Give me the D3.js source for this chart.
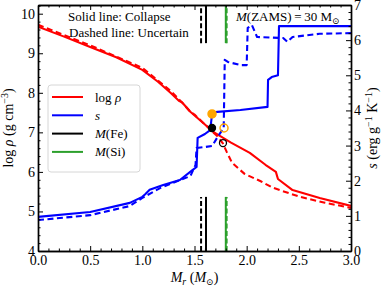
<!DOCTYPE html>
<html>
<head>
<meta charset="utf-8">
<script src="https://cdn.jsdelivr.net/npm/d3@7"></script>
<style>
    body { margin: 0; background: #fff; }
    text { font-family: 'Liberation Serif', 'DejaVu Serif', serif; fill: #000; }
    .axis path, .axis line { stroke: #000; }
    .axis path { stroke-width: 1.4; }
    .axis text { font-size: 13px; }
</style>
</head>
<body>
<div id="graph"></div>
<script>
// log rho profiles (left axis), [M_r, log rho]
var rhoCollapse  = [ [0, 9.67], [0.25, 9.42], [0.5, 9.16], [0.75, 8.9], [1.0, 8.58], [1.15, 8.28],
                     [1.27, 8.0], [1.35, 7.8], [1.38, 7.76], [1.46, 7.52], [1.6, 7.2], [1.68, 7.01],
                     [1.85, 6.74], [2.03, 6.48], [2.18, 6.18], [2.28, 6.0], [2.3, 5.82], [2.44, 5.54],
                     [2.7, 5.34], [3.0, 5.14] ];
var rhoUncertain = [ [0, 9.72], [0.5, 9.2], [1.0, 8.63], [1.27, 8.05], [1.4, 7.7], [1.46, 7.52],
                     [1.5, 7.45], [1.6, 7.2], [1.72, 6.9], [1.77, 6.73], [1.81, 6.5], [1.86, 6.23],
                     [1.98, 5.95], [2.13, 5.77], [2.25, 5.6], [2.51, 5.37], [2.75, 5.22], [3.0, 5.09] ];

// entropy profiles (right axis), [M_r, s]
var sCollapse  = [ [0, 0.97], [0.5, 1.11], [0.88, 1.37], [1.0, 1.54], [1.03, 1.62], [1.07, 1.74],
                   [1.2, 1.88], [1.36, 2.02], [1.48, 2.3], [1.52, 2.39], [1.53, 3.22], [1.6, 3.33],
                   [1.65, 3.44], [1.67, 3.93], [1.72, 3.96], [1.94, 4.01], [2.2, 4.1], [2.205, 4.87],
                   [2.24, 4.95], [2.3, 5.0], [2.31, 6.4], [3.0, 6.4] ];
var sUncertain = [ [0, 0.88], [0.5, 1.02], [0.88, 1.28], [1.0, 1.51], [1.17, 1.79], [1.36, 2.02],
                   [1.46, 2.13], [1.51, 2.45], [1.52, 2.93], [1.6, 2.96], [1.67, 2.99], [1.72, 3.24],
                   [1.78, 3.5], [1.79, 5.44], [1.82, 5.38], [1.94, 5.29], [2.0, 5.29], [2.01, 6.35],
                   [2.05, 6.43], [2.1, 6.09], [2.35, 6.06], [2.39, 5.95], [2.44, 6.09], [2.7, 6.18],
                   [3.0, 6.2] ];

// markers: [M_r, value, filled]
var rhoMarkers = [ [1.668, 7.11, true], [1.773, 6.73, false] ];
var sMarkers   = [ [1.668, 3.9, true],  [1.783, 3.5, false] ];

// M(Fe), M(Si) positions: [M_r, dashed]
var feMass = [ [1.61, false], [1.563, true] ];
var siMass = [ [1.80, false], [1.808, true] ];

var xTicks      = [0, 0.5, 1.0, 1.5, 2.0, 2.5, 3.0];
var leftTicks   = [4, 5, 6, 7, 8, 9, 10];
var rightTicks  = [0, 1, 2, 3, 4, 5, 6, 7];

function D3App ()
{
    var margin = { top: 5, right: 31, bottom: 35, left: 38 };
    var width  = 382 - margin.left - margin.right;
    var height = 286 - margin.top  - margin.bottom;

    var svg = d3.select ('#graph')
                .append ('svg')
                .attr ('width', width + margin.left + margin.right)
                .attr ('height', height + margin.top + margin.bottom)
                .append ('g')
                .attr ('transform', 'translate(' + margin.left + ',' + margin.top + ')');

    var xScale  = d3.scaleLinear ().domain ([0, 3]).range ([0, width]);
    var yLeft   = d3.scaleLinear ().domain ([4, 10.22]).range ([height, 0]);
    var yRight  = d3.scaleLinear ().domain ([0, 7]).range ([height, 0]);

    svg.append ('clipPath').attr ('id', 'clip')
       .append ('rect').attr ('width', width).attr ('height', height);

    var plot = svg.append ('g').attr ('clip-path', 'url(#clip)');

    // vertical mass coordinate markers, top and bottom pieces
    var vFrac = [ [0, 0.22], [0.845, 1] ];
    function drawMass (list, colour)
    {
        list.forEach (function (m)
        {
            vFrac.forEach (function (f)
            {
                plot.append ('line')
                    .attr ('x1', xScale (m[0])).attr ('x2', xScale (m[0]))
                    .attr ('y1', height * (1 - f[0])).attr ('y2', height * (1 - f[1]))
                    .style ('stroke', colour)
                    .style ('stroke-width', 2)
                    .style ('stroke-dasharray', m[1] ? '5,2.5' : null);
            });
        });
    }
    drawMass (feMass, '#000');
    drawMass (siMass, '#2ca02c');

    var lineL = d3.line ().x (function (d) { return xScale (d[0]); })
                          .y (function (d) { return yLeft (d[1]); });
    var lineR = d3.line ().x (function (d) { return xScale (d[0]); })
                          .y (function (d) { return yRight (d[1]); });

    var curves = [ [rhoCollapse, lineL, '#ff0000', false], [rhoUncertain, lineL, '#ff0000', true],
                   [sCollapse, lineR, '#0000ff', false],   [sUncertain, lineR, '#0000ff', true] ];

    curves.forEach (function (c)
    {
        plot.append ('path')
            .datum (c[0])
            .attr ('d', c[1])
            .style ('fill', 'none')
            .style ('stroke', c[2])
            .style ('stroke-width', 2.1)
            .style ('stroke-linejoin', 'round')
            .style ('stroke-dasharray', c[3] ? '6,3.5' : null);
    });

    // markers
    plot.selectAll ('.rhoMark').data (rhoMarkers).enter ()
        .append ('circle')
        .attr ('cx', function (d) { return xScale (d[0]); })
        .attr ('cy', function (d) { return yLeft (d[1]); })
        .attr ('r', 3.5)
        .style ('fill', function (d) { return d[2] ? '#000' : 'none'; })
        .style ('stroke', '#000').style ('stroke-width', 1.3);

    plot.selectAll ('.sMark').data (sMarkers).enter ()
        .append ('circle')
        .attr ('cx', function (d) { return xScale (d[0]); })
        .attr ('cy', function (d) { return yRight (d[1]); })
        .attr ('r', 4)
        .style ('fill', function (d) { return d[2] ? '#ffa500' : 'none'; })
        .style ('stroke', '#ffa500').style ('stroke-width', 1.5);

    // axes with inward ticks
    function minor (lo, hi, step, major)
    {
        var out = [];
        for (var v = lo; v <= hi + 1e-9; v += step)
        {
            var r = Math.round (v * 100) / 100;
            if (major.indexOf (r) < 0) out.push (r);
        }
        return out;
    }

    var xMinor = minor (0, 3, 0.1, xTicks);
    var lMinor = minor (4, 10.2, 0.2, leftTicks);
    var rMinor = minor (0, 7, 0.2, rightTicks);

    svg.append ('g').attr ('class', 'axis')
       .attr ('transform', 'translate(0,' + height + ')')
       .call (d3.axisBottom (xScale).tickValues (xTicks).tickSizeInner (-5).tickSizeOuter (0)
                .tickPadding (4).tickFormat (d3.format ('.1f')));
    svg.append ('g').attr ('class', 'axis')
       .attr ('transform', 'translate(0,' + height + ')')
       .call (d3.axisBottom (xScale).tickValues (xMinor).tickSizeInner (-2.5).tickSizeOuter (0).tickFormat (''));
    svg.append ('g').attr ('class', 'axis')
       .call (d3.axisTop (xScale).tickValues (xTicks).tickSizeInner (-5).tickSizeOuter (0).tickFormat (''));
    svg.append ('g').attr ('class', 'axis')
       .call (d3.axisTop (xScale).tickValues (xMinor).tickSizeInner (-2.5).tickSizeOuter (0).tickFormat (''));

    svg.append ('g').attr ('class', 'axis')
       .call (d3.axisLeft (yLeft).tickValues (leftTicks).tickSizeInner (-5).tickSizeOuter (0)
                .tickPadding (3).tickFormat (d3.format ('d')));
    svg.append ('g').attr ('class', 'axis')
       .call (d3.axisLeft (yLeft).tickValues (lMinor).tickSizeInner (-2.5).tickSizeOuter (0).tickFormat (''));

    svg.append ('g').attr ('class', 'axis')
       .attr ('transform', 'translate(' + width + ',0)')
       .call (d3.axisRight (yRight).tickValues (rightTicks).tickSizeInner (-5).tickSizeOuter (0)
                .tickPadding (3).tickFormat (d3.format ('d')));
    svg.append ('g').attr ('class', 'axis')
       .attr ('transform', 'translate(' + width + ',0)')
       .call (d3.axisRight (yRight).tickValues (rMinor).tickSizeInner (-2.5).tickSizeOuter (0).tickFormat (''));

    svg.selectAll ('.axis .tick text').style ('font-size', '14px');

    // axis labels
    var xl = svg.append ('text')
                .attr ('x', width / 2).attr ('y', height + 31)
                .attr ('text-anchor', 'middle').style ('font-size', '14px');
    xl.append ('tspan').style ('font-style', 'italic').text ('M');
    xl.append ('tspan').style ('font-style', 'italic').style ('font-size', '10px').attr ('dy', 3).text ('r');
    xl.append ('tspan').attr ('dy', -3).text (' (');
    xl.append ('tspan').style ('font-style', 'italic').text ('M');
    xl.append ('tspan').style ('font-size', '9px').attr ('dy', 3).text ('⊙');
    xl.append ('tspan').attr ('dy', -3).text (')');

    var yl = svg.append ('text')
                .attr ('transform', 'translate(' + (-25) + ',' + (height / 2) + ') rotate(-90)')
                .attr ('text-anchor', 'middle').style ('font-size', '14px');
    yl.append ('tspan').text ('log ');
    yl.append ('tspan').style ('font-style', 'italic').text ('ρ');
    yl.append ('tspan').text (' (g cm');
    yl.append ('tspan').style ('font-size', '10px').attr ('dy', -5).text ('−3');
    yl.append ('tspan').attr ('dy', 5).text (')');

    var yr = svg.append ('text')
                .attr ('transform', 'translate(' + (width + 26) + ',' + (height / 2) + ') rotate(-90)')
                .attr ('text-anchor', 'middle').style ('font-size', '14px');
    yr.append ('tspan').style ('font-style', 'italic').text ('s');
    yr.append ('tspan').text (' (erg g');
    yr.append ('tspan').style ('font-size', '10px').attr ('dy', -5).text ('−1');
    yr.append ('tspan').attr ('dy', 5).text (' K');
    yr.append ('tspan').style ('font-size', '10px').attr ('dy', -5).text ('−1');
    yr.append ('tspan').attr ('dy', 5).text (')');

    // annotations
    svg.append ('text').attr ('x', 30).attr ('y', 16).style ('font-size', '13px').text ('Solid line: Collapse');
    svg.append ('text').attr ('x', 31).attr ('y', 32).style ('font-size', '13px').text ('Dashed line: Uncertain');

    var zt = svg.append ('text').attr ('x', 198).attr ('y', 16).style ('font-size', '13px');
    zt.append ('tspan').style ('font-style', 'italic').text ('M');
    zt.append ('tspan').text ('(ZAMS)\u2009=\u200930 M');
    zt.append ('tspan').style ('font-size', '9px').attr ('dy', 3).text ('⊙');

    // legend
    var leg = svg.append ('g').attr ('transform', 'translate(10,80)');
    leg.append ('rect').attr ('width', 92).attr ('height', 87).attr ('rx', 3)
       .style ('fill', '#fff').style ('fill-opacity', 0.8)
       .style ('stroke', '#d6d6d6').style ('stroke-width', 1);

    var legItems = [ ['#ff0000', 'rho'], ['#0000ff', 's'], ['#000', 'Fe'], ['#2ca02c', 'Si'] ];
    legItems.forEach (function (it, i)
    {
        var yy = 12 + i * 18.3;
        leg.append ('line').attr ('x1', 4).attr ('x2', 35).attr ('y1', yy).attr ('y2', yy)
           .style ('stroke', it[0]).style ('stroke-width', 2);
        var t = leg.append ('text').attr ('x', 47).attr ('y', yy + 4.5).style ('font-size', '13px');
        if (it[1] == 'rho')
        {
            t.append ('tspan').text ('log ');
            t.append ('tspan').style ('font-style', 'italic').text ('ρ');
        }
        else if (it[1] == 's')
        {
            t.append ('tspan').style ('font-style', 'italic').text ('s');
        }
        else
        {
            t.append ('tspan').style ('font-style', 'italic').text ('M');
            t.append ('tspan').text ('(' + it[1] + ')');
        }
    });
}

D3App ();
</script>
</body>
</html>
